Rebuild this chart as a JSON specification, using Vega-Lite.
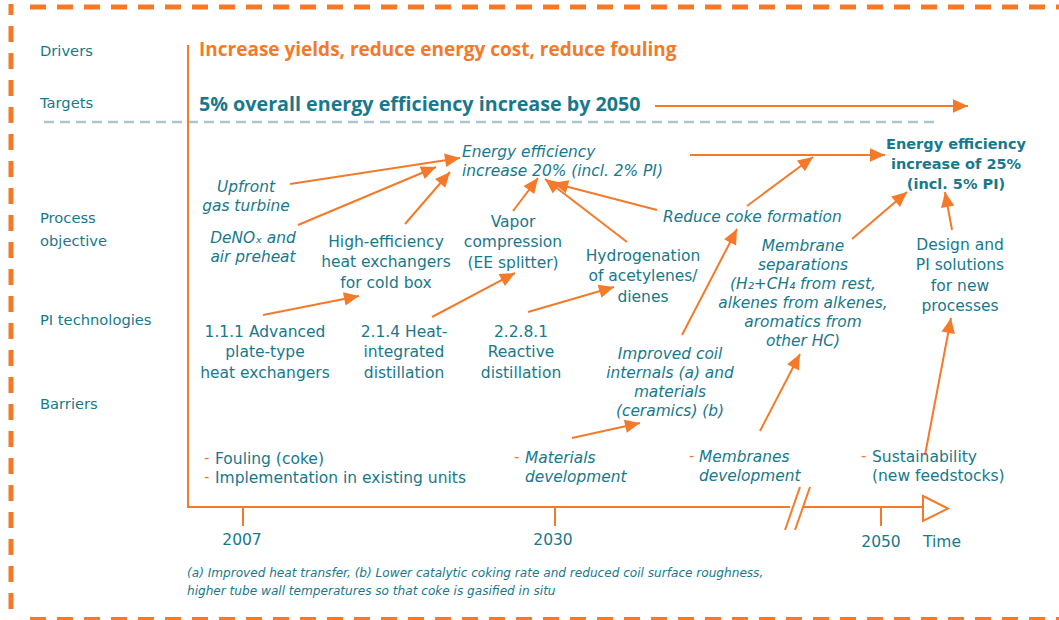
{
  "$schema": "https://vega.github.io/schema/vega-lite/v6.json",
  "width": 1059,
  "height": 620,
  "padding": 0,
  "autosize": {"type": "none"},
  "background": "white",
  "config": {"view": {"stroke": null}, "font": "DejaVu Sans"},
  "datasets": {
    "labels": [
      {"kind": "row", "x": 40, "y": 52, "text": ["Drivers"]},
      {"kind": "row", "x": 40, "y": 104, "text": ["Targets"]},
      {"kind": "row", "x": 40, "y": 219, "text": ["Process", "objective"]},
      {"kind": "row", "x": 40, "y": 321, "text": ["PI technologies"]},
      {"kind": "row", "x": 40, "y": 405, "text": ["Barriers"]},
      {"kind": "driver", "x": 199, "y": 50, "text": ["Increase yields, reduce energy cost, reduce fouling"]},
      {"kind": "target", "x": 199, "y": 105, "text": ["5% overall energy efficiency increase by 2050"]},
      {"kind": "italicLeft", "x": 462, "y": 152, "text": ["Energy efficiency", "increase 20% (incl. 2% PI)"]},
      {"kind": "italicLeft", "x": 663, "y": 217, "text": ["Reduce coke formation"]},
      {"kind": "italic", "x": 246, "y": 187, "text": ["Upfront", "gas turbine"]},
      {"kind": "italic", "x": 253, "y": 238, "text": ["DeNOₓ and", "air preheat"]},
      {"kind": "italic", "x": 803, "y": 246, "text": ["Membrane", "separations", "(H₂+CH₄ from rest,", "alkenes from alkenes,", "aromatics from", "other HC)"]},
      {"kind": "italic", "x": 670, "y": 354, "text": ["Improved coil", "internals (a) and", "materials", "(ceramics) (b)"]},
      {"kind": "plain", "x": 386, "y": 242, "text": ["High-efficiency", "heat exchangers", "for cold box"]},
      {"kind": "plain", "x": 513, "y": 222, "text": ["Vapor", "compression", "(EE splitter)"]},
      {"kind": "plain", "x": 643, "y": 256, "text": ["Hydrogenation", "of acetylenes/", "dienes"]},
      {"kind": "plain", "x": 265, "y": 332, "text": ["1.1.1 Advanced", "plate-type", "heat exchangers"]},
      {"kind": "plain", "x": 404, "y": 332, "text": ["2.1.4 Heat-", "integrated", "distillation"]},
      {"kind": "plain", "x": 521, "y": 332, "text": ["2.2.8.1", "Reactive", "distillation"]},
      {"kind": "plain", "x": 960, "y": 245, "text": ["Design and", "PI solutions", "for new", "processes"]},
      {"kind": "plain", "x": 242, "y": 540, "text": ["2007"]},
      {"kind": "plain", "x": 553, "y": 540, "text": ["2030"]},
      {"kind": "plain", "x": 881, "y": 542, "text": ["2050"]},
      {"kind": "plain", "x": 942, "y": 542, "text": ["Time"]},
      {"kind": "barrier", "x": 215, "y": 459, "text": ["Fouling (coke)", "Implementation in existing units"]},
      {"kind": "barrier", "x": 872, "y": 457, "text": ["Sustainability", "(new feedstocks)"]},
      {"kind": "barrierItalic", "x": 525, "y": 458, "text": ["Materials", "development"]},
      {"kind": "barrierItalic", "x": 699, "y": 457, "text": ["Membranes", "development"]},
      {"kind": "bold", "x": 956, "y": 145, "text": ["Energy efficiency", "increase of 25%", "(incl. 5% PI)"]},
      {"kind": "dash", "x": 204, "y": 458, "text": ["-", "-"]},
      {"kind": "dash", "x": 514, "y": 457, "text": ["-"]},
      {"kind": "dash", "x": 689, "y": 456, "text": ["-"]},
      {"kind": "dash", "x": 861, "y": 456, "text": ["-"]},
      {"kind": "note", "x": 187, "y": 573, "text": ["(a) Improved heat transfer, (b) Lower catalytic coking rate and reduced coil surface roughness,", "higher tube wall temperatures so that coke is gasified in situ"]}
    ],
    "arrows": [
      {"x": 290, "y": 184, "x2": 460, "y2": 158},
      {"x": 298, "y": 225, "x2": 436, "y2": 167},
      {"x": 405, "y": 224, "x2": 450, "y2": 172},
      {"x": 513, "y": 211, "x2": 538, "y2": 178},
      {"x": 627, "y": 242, "x2": 545, "y2": 179},
      {"x": 657, "y": 210, "x2": 553, "y2": 183},
      {"x": 690, "y": 155, "x2": 885, "y2": 155},
      {"x": 682, "y": 335, "x2": 737, "y2": 229},
      {"x": 747, "y": 206, "x2": 813, "y2": 157},
      {"x": 852, "y": 239, "x2": 907, "y2": 192},
      {"x": 952, "y": 230, "x2": 945, "y2": 192},
      {"x": 263, "y": 315, "x2": 359, "y2": 296},
      {"x": 432, "y": 317, "x2": 515, "y2": 273},
      {"x": 528, "y": 312, "x2": 614, "y2": 287},
      {"x": 572, "y": 438, "x2": 640, "y2": 423},
      {"x": 760, "y": 431, "x2": 800, "y2": 354},
      {"x": 925, "y": 455, "x2": 951, "y2": 318},
      {"x": 655, "y": 106, "x2": 968, "y2": 106}
    ],
    "lines": [
      {"kind": "axis", "x": 188, "y": 45, "x2": 188, "y2": 508},
      {"kind": "axis", "x": 187, "y": 507, "x2": 790, "y2": 507},
      {"kind": "axis", "x": 803, "y": 507, "x2": 923, "y2": 507},
      {"kind": "axis", "x": 243, "y": 507, "x2": 243, "y2": 526},
      {"kind": "axis", "x": 555, "y": 507, "x2": 555, "y2": 526},
      {"kind": "axis", "x": 881, "y": 507, "x2": 881, "y2": 526},
      {"kind": "axis", "x": 785, "y": 530, "x2": 800, "y2": 487},
      {"kind": "axis", "x": 795, "y": 530, "x2": 810, "y2": 487},
      {"kind": "separator", "x": 44, "y": 122, "x2": 938, "y2": 122},
      {"kind": "borderLeft", "x": 11, "y": 4, "x2": 11, "y2": 620},
      {"kind": "borderTop", "x": 30, "y": 7, "x2": 1062, "y2": 7},
      {"kind": "borderBottom", "x": 30, "y": 619.5, "x2": 1062, "y2": 619.5}
    ],
    "ends": [
      {"x": 935.5, "y": 508.5}
    ]
  },
  "data": {"name": "labels"},
  "encoding": {
    "x": {"field": "x", "type": "quantitative", "scale": {"domain": [0, 1059], "nice": false, "zero": false}, "axis": null},
    "y": {"field": "y", "type": "quantitative", "scale": {"domain": [0, 620], "nice": false, "zero": false, "reverse": true}, "axis": null}
  },
  "layer": [
    {
      "data": {"name": "lines"},
      "transform": [{"filter": "datum.kind === 'separator'"}],
      "mark": {"type": "rule", "color": "#A9C5CD", "strokeWidth": 2.5, "strokeDash": [10, 6]},
      "encoding": {"x2": {"field": "x2"}, "y2": {"field": "y2"}}
    },
    {
      "data": {"name": "lines"},
      "transform": [{"filter": "datum.kind === 'borderLeft'"}],
      "mark": {"type": "rule", "color": "#F47A2A", "strokeWidth": 5, "strokeDash": [16, 11], "strokeDashOffset": 5},
      "encoding": {"x2": {"field": "x2"}, "y2": {"field": "y2"}}
    },
    {
      "data": {"name": "lines"},
      "transform": [{"filter": "datum.kind === 'borderTop' || datum.kind === 'borderBottom'"}],
      "mark": {"type": "rule", "color": "#F47A2A", "strokeWidth": 5, "strokeDash": [16, 11]},
      "encoding": {"x2": {"field": "x2"}, "y2": {"field": "y2"}}
    },
    {
      "data": {"name": "lines"},
      "transform": [{"filter": "datum.kind === 'axis'"}],
      "mark": {"type": "rule", "color": "#F47A2A", "strokeWidth": 2},
      "encoding": {"x2": {"field": "x2"}, "y2": {"field": "y2"}}
    },
    {
      "data": {"name": "ends"},
      "mark": {"type": "point", "shape": "M-1,-1L1,0L-1,1Z", "size": 625, "filled": false, "stroke": "#F47A2A", "strokeWidth": 2, "opacity": 1}
    },
    {
      "data": {"name": "arrows"},
      "mark": {"type": "rule", "color": "#F47A2A", "strokeWidth": 2},
      "encoding": {"x2": {"field": "x2"}, "y2": {"field": "y2"}}
    },
    {
      "data": {"name": "arrows"},
      "transform": [{"calculate": "atan2(datum.x2 - datum.x, -(datum.y2 - datum.y)) * 180 / PI", "as": "heading"}],
      "mark": {"type": "point", "shape": "M0,0L-0.45,1L0.45,1Z", "size": 900, "filled": true, "color": "#F47A2A", "opacity": 1, "strokeWidth": 0},
      "encoding": {
        "x": {"field": "x2", "type": "quantitative"},
        "y": {"field": "y2", "type": "quantitative"},
        "angle": {"field": "heading", "type": "quantitative", "scale": null}
      }
    },
    {
      "transform": [{"filter": "datum.kind === 'row'"}],
      "mark": {"type": "text", "align": "left", "baseline": "middle", "fontSize": 14.7, "lineHeight": 23, "color": "#17798B"},
      "encoding": {"text": {"field": "text"}}
    },
    {
      "transform": [{"filter": "datum.kind === 'driver'"}],
      "mark": {"type": "text", "align": "left", "baseline": "middle", "font": "Open Sans", "fontSize": 19, "fontWeight": "bold", "color": "#F47A2A"},
      "encoding": {"text": {"field": "text"}}
    },
    {
      "transform": [{"filter": "datum.kind === 'target'"}],
      "mark": {"type": "text", "align": "left", "baseline": "middle", "font": "Open Sans", "fontSize": 19.7, "fontWeight": "bold", "color": "#17798B"},
      "encoding": {"text": {"field": "text"}}
    },
    {
      "transform": [{"filter": "datum.kind === 'italicLeft'"}],
      "mark": {"type": "text", "align": "left", "baseline": "middle", "fontSize": 15.4, "lineHeight": 19, "fontStyle": "italic", "color": "#17798B"},
      "encoding": {"text": {"field": "text"}}
    },
    {
      "transform": [{"filter": "datum.kind === 'italic'"}],
      "mark": {"type": "text", "align": "center", "baseline": "middle", "fontSize": 15.4, "lineHeight": 19, "fontStyle": "italic", "color": "#17798B"},
      "encoding": {"text": {"field": "text"}}
    },
    {
      "transform": [{"filter": "datum.kind === 'plain'"}],
      "mark": {"type": "text", "align": "center", "baseline": "middle", "fontSize": 15.5, "lineHeight": 20.3, "color": "#17798B"},
      "encoding": {"text": {"field": "text"}}
    },
    {
      "transform": [{"filter": "datum.kind === 'barrier'"}],
      "mark": {"type": "text", "align": "left", "baseline": "middle", "fontSize": 15.5, "lineHeight": 18.5, "color": "#17798B"},
      "encoding": {"text": {"field": "text"}}
    },
    {
      "transform": [{"filter": "datum.kind === 'barrierItalic'"}],
      "mark": {"type": "text", "align": "left", "baseline": "middle", "fontSize": 15.4, "lineHeight": 18.5, "fontStyle": "italic", "color": "#17798B"},
      "encoding": {"text": {"field": "text"}}
    },
    {
      "transform": [{"filter": "datum.kind === 'bold'"}],
      "mark": {"type": "text", "align": "center", "baseline": "middle", "fontSize": 14.5, "lineHeight": 20, "fontWeight": "bold", "color": "#17798B"},
      "encoding": {"text": {"field": "text"}}
    },
    {
      "transform": [{"filter": "datum.kind === 'dash'"}],
      "mark": {"type": "text", "align": "left", "baseline": "middle", "fontSize": 15, "lineHeight": 19, "color": "#F47A2A"},
      "encoding": {"text": {"field": "text"}}
    },
    {
      "transform": [{"filter": "datum.kind === 'note'"}],
      "mark": {"type": "text", "align": "left", "baseline": "middle", "fontSize": 12.1, "lineHeight": 18, "fontStyle": "italic", "color": "#17798B"},
      "encoding": {"text": {"field": "text"}}
    }
  ]
}
